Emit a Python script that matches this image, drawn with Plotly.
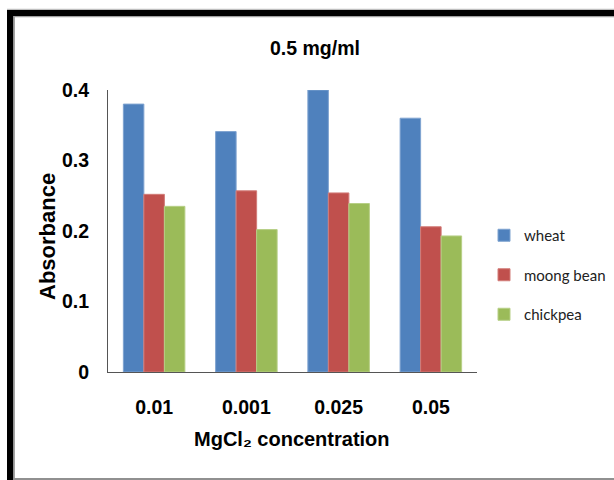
import plotly.graph_objects as go

categories = ["0.01", "0.001", "0.025", "0.05"]
wheat = [0.380, 0.341, 0.400, 0.360]
moong_bean = [0.252, 0.257, 0.254, 0.206]
chickpea = [0.235, 0.202, 0.239, 0.193]
y_ticks = [0, 0.1, 0.2, 0.3, 0.4]
y_tick_labels = ["0", "0.1", "0.2", "0.3", "0.4"]

W, H = 614, 480
ML, MR, MT, MB = 108, 137, 90, 108
PW, PH = W - ML - MR, H - MT - MB

def px(x):
    return (x - ML) / PW

def py(y):
    return (H - MB - y) / PH

series = [
    ("wheat", wheat, "#4F81BD", "#7FA3D0"),
    ("moong bean", moong_bean, "#C0504D", "#D27C79"),
    ("chickpea", chickpea, "#9BBB59", "#B7CF86"),
]

fig = go.Figure()
for name, vals, col, edge in series:
    fig.add_trace(go.Bar(
        x=categories, y=vals, name=name, legendgroup=name,
        marker=dict(color=col, line=dict(color=edge, width=1)),
    ))

bold = "Liberation Sans"
fig.update_layout(
    width=W, height=H,
    margin=dict(l=ML, r=MR, t=MT, b=MB, autoexpand=False),
    paper_bgcolor="white", plot_bgcolor="white",
    barmode="group", bargap=0.333, bargroupgap=0,
    showlegend=True,
    legend=dict(
        x=px(484), y=py(219), xanchor="left", yanchor="top",
        font=dict(family="Lato, Liberation Sans, sans-serif", size=15, color="#222"),
        tracegroupgap=17, itemwidth=30, bgcolor="rgba(0,0,0,0)",
    ),
    xaxis=dict(
        showline=True, linecolor="#555", linewidth=1, showgrid=False,
        ticks="", ticklabelstandoff=18, automargin=False,
        tickfont=dict(family=bold, size=19.5, color="black", weight="bold"),
    ),
    yaxis=dict(
        range=[0, 0.4], tickvals=y_ticks, ticktext=y_tick_labels,
        showline=True, linecolor="#555", linewidth=1, showgrid=False,
        zeroline=False, ticks="", ticklabelstandoff=14, automargin=False,
        tickfont=dict(family=bold, size=19.5, color="black", weight="bold"),
    ),
    annotations=[
        dict(text="<b>0.5 mg/ml</b>", x=px(315), y=py(48), xref="paper", yref="paper",
             xanchor="center", yanchor="middle", showarrow=False,
             font=dict(family=bold, size=19.5, color="black")),
        dict(text="<b>MgCl\u2082 concentration</b>", x=px(292), y=py(439),
             xref="paper", yref="paper", xanchor="center", yanchor="middle", showarrow=False,
             font=dict(family=bold, size=20, color="black")),
        dict(text="<b>Absorbance</b>", x=px(47), y=py(236), xref="paper", yref="paper",
             xanchor="center", yanchor="middle", showarrow=False, textangle=-90,
             font=dict(family=bold, size=22, color="black")),
    ],
    shapes=[
        dict(type="rect", xref="paper", yref="paper", x0=px(7), x1=px(13.5), y0=py(10), y1=py(480),
             fillcolor="black", line=dict(width=0), layer="above"),
        dict(type="rect", xref="paper", yref="paper", x0=px(7), x1=px(614), y0=py(10), y1=py(16),
             fillcolor="black", line=dict(width=0), layer="above"),
        dict(type="line", xref="paper", yref="paper", x0=px(14.2), x1=px(14.2), y0=py(16), y1=py(480),
             line=dict(color="#A0A0A0", width=1.5)),
        dict(type="line", xref="paper", yref="paper", x0=px(14), x1=px(614), y0=py(16.6), y1=py(16.6),
             line=dict(color="#A0A0A0", width=1.2)),
        dict(type="line", xref="paper", yref="paper", x0=px(7), x1=px(614), y0=py(9.3), y1=py(9.3),
             line=dict(color="#B0B0B0", width=1)),
        dict(type="line", xref="paper", yref="paper", x0=px(14), x1=px(614), y0=py(479), y1=py(479),
             line=dict(color="#909090", width=2)),
    ],
)

fig.write_html("out.html")
